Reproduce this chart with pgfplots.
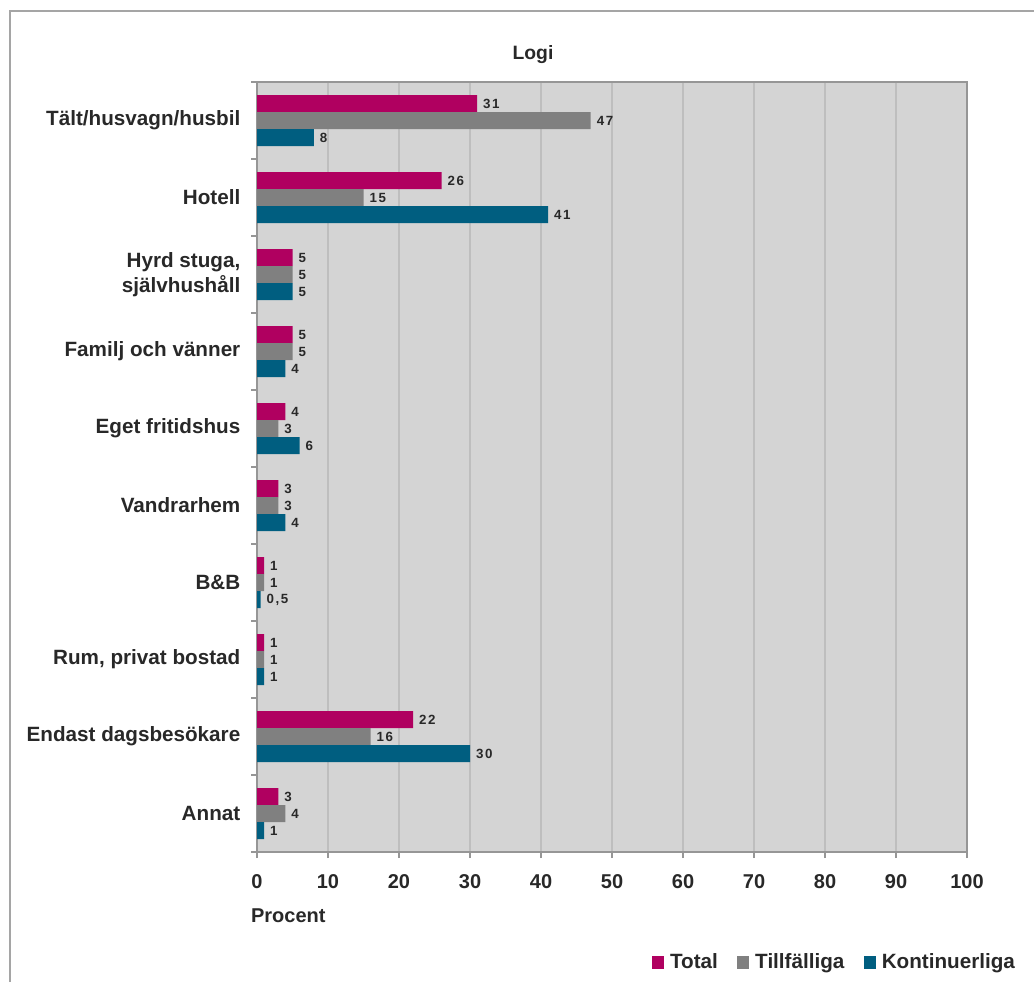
\documentclass[border=0pt]{standalone}
\usepackage{pgfplots}
\pgfplotsset{compat=1.18}
\usepackage{fontspec}
\setmainfont{Liberation Sans}
\newfontfamily\lblfont[LetterSpace=12]{Liberation Sans}

\definecolor{cTotal}{RGB}{176,0,96}
\definecolor{cTill}{RGB}{128,128,128}
\definecolor{cKont}{RGB}{0,94,128}
\definecolor{plotbg}{RGB}{212,212,212}
\definecolor{gridc}{RGB}{190,190,190}
\definecolor{framec}{RGB}{150,150,150}
\definecolor{outerc}{RGB}{165,165,165}
\definecolor{txt}{RGB}{40,40,40}

\begin{document}
\begin{tikzpicture}[text=txt]
\begin{scope}[x=0.75pt,y=-0.75pt]
\path[use as bounding box] (0,0) rectangle (1034,982);
% chart frame (top and left edges)
\draw[outerc, line width=1.6pt] (10,982) -- (10,11) -- (1034,11);
\node[font=\fontsize{14.5}{17}\selectfont\bfseries] at (533,55) {Logi};
\coordinate (plotSW) at (257,852);
\end{scope}
\begin{axis}[
  at={(plotSW)}, anchor=south west,
  scale only axis, width=532.5pt, height=577.5pt,
  xmin=0, xmax=100, ymin=0.5, ymax=10.5,
  axis background/.style={fill=plotbg},
  axis line style={framec, line width=1.2pt},
  tick align=outside, tick pos=left,
  major tick length=4.5pt,
  tick style={framec, line width=1.2pt},
  xtick={0,10,...,100},
  xmajorgrids, major grid style={gridc, line width=1pt},
  % boundary marks between the groups
  ytick={0.5,1.5,...,10.5},
  yticklabels={},
  % group names, centred on each group
  extra y ticks={1,...,10},
  extra y tick labels={Annat, Endast dagsbesökare, {Rum, privat bostad}, B\&B, Vandrarhem, Eget fritidshus, Familj och vänner, {Hyrd stuga,\\självhushåll}, Hotell, Tält/husvagn/husbil},
  extra y tick style={grid=none, tick style={draw=none},
    y tick label style={align=right, font=\fontsize{15.5}{19}\selectfont\bfseries, xshift=-4.5pt}},
  x tick label style={font=\fontsize{15}{18}\selectfont\bfseries, yshift=-8.5pt},
  /pgf/number format/assume math mode=true,
  xlabel={Procent},
  x label style={at={(rel axis cs:0,0)}, anchor=north west, xshift=-8pt, yshift=-39pt, font=\fontsize{15}{18}\selectfont\bfseries},
  xbar, bar width=12.75pt,
  point meta=explicit symbolic,
  nodes near coords,
  nodes near coords style={anchor=west, xshift=1pt, font=\lblfont\fontsize{10}{12}\selectfont\bfseries},
  legend columns=3,
  legend style={at={(rel axis cs:1.082,-0.143)}, anchor=east, draw=none, fill=none,
    font=\fontsize{15.5}{19}\selectfont\bfseries,
    nodes={inner xsep=4.5pt},
    /tikz/every even column/.append style={column sep=10pt}},
  legend image code/.code={\fill[#1] (0pt,-4.8pt) rectangle (9pt,4.8pt);},
]
\addplot[fill=cTotal, draw=none, bar shift=12.75pt] coordinates {
  (31,10) [31] (26,9) [26] (5,8) [5] (5,7) [5] (4,6) [4]
  (3,5) [3] (1,4) [1] (1,3) [1] (22,2) [22] (3,1) [3]
};
\addplot[fill=cTill, draw=none, bar shift=0pt] coordinates {
  (47,10) [47] (15,9) [15] (5,8) [5] (5,7) [5] (3,6) [3]
  (3,5) [3] (1,4) [1] (1,3) [1] (16,2) [16] (4,1) [4]
};
\addplot[fill=cKont, draw=none, bar shift=-12.75pt] coordinates {
  (8,10) [8] (41,9) [41] (5,8) [5] (4,7) [4] (6,6) [6]
  (4,5) [4] (0.5,4) [{0,5}] (1,3) [1] (30,2) [30] (1,1) [1]
};
\legend{Total, Tillfälliga, Kontinuerliga}
\end{axis}
\end{tikzpicture}
\end{document}
